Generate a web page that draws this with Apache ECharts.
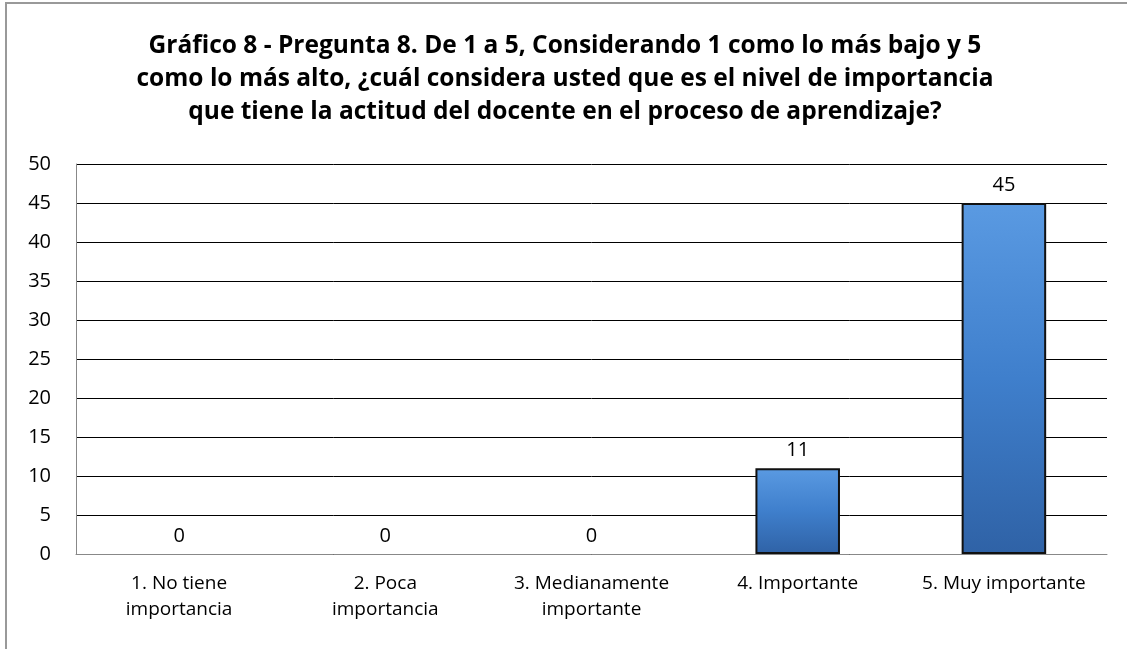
<!DOCTYPE html>
<html>
<head>
<meta charset="utf-8">
<script src="https://cdn.jsdelivr.net/npm/echarts@6/dist/echarts.min.js"></script>
<style>
  html, body { margin: 0; padding: 0; background: #fff; }
  #chart { width: 1127px; height: 649px; }
</style>
</head>
<body>
<div id="chart"></div>
<script>
var categories = ['1. No tiene\nimportancia', '2. Poca\nimportancia', '3. Medianamente\nimportante', '4. Importante', '5. Muy importante'];
var counts = [0, 0, 0, 11, 45];
var yTicks = { min: 0, max: 50, step: 5 };

var chart = echarts.init(document.getElementById('chart'));

// zero bars show no outline, only their label
var barData = counts.map(function (v) {
    return v === 0 ? { value: v, itemStyle: { borderWidth: 0 } } : v;
});

var option = {
    backgroundColor: '#fff',
    graphic: [{
        type: 'rect',
        shape: { x: 6, y: 3, width: 1130, height: 660 },
        style: { fill: 'none', stroke: '#999', lineWidth: 2 },
        silent: true
    }],
    title: {
        text: 'Gráfico 8 - Pregunta 8. De 1 a 5, Considerando 1 como lo más bajo y 5\ncomo lo más alto, ¿cuál considera usted que es el nivel de importancia\nque tiene la actitud del docente en el proceso de aprendizaje?',
        left: 560,
        top: 25,
        textAlign: 'center',
        textStyle: {
            fontFamily: 'Open Sans',
            fontSize: 24.5,
            fontWeight: 'bold',
            color: '#000',
            lineHeight: 33
        }
    },
    grid: {
        left: 76,
        right: 20,
        top: 164,
        bottom: 95,
        containLabel: false
    },
    xAxis: {
        type: 'category',
        data: categories,
        axisLine: { show: true, lineStyle: { color: '#888', width: 1 } },
        axisTick: { show: false },
        axisLabel: {
            color: '#000',
            fontFamily: 'Open Sans',
            fontSize: 19,
            lineHeight: 26,
            margin: 17,
            interval: 0
        }
    },
    yAxis: {
        type: 'value',
        min: yTicks.min,
        max: yTicks.max,
        interval: yTicks.step,
        axisLine: { show: true, lineStyle: { color: '#888', width: 1 } },
        axisTick: { show: false },
        axisLabel: {
            color: '#000',
            fontFamily: 'Open Sans',
            fontSize: 20,
            margin: 25
        },
        splitLine: { show: true, lineStyle: { color: '#000', width: 1 } }
    },
    series: [{
        type: 'bar',
        data: barData,
        barWidth: '41%',
        itemStyle: {
            color: new echarts.graphic.LinearGradient(0, 0, 0, 1, [
                { offset: 0, color: '#5a9ae2' },
                { offset: 0.5, color: '#3f7fcc' },
                { offset: 1, color: '#2f62a6' }
            ]),
            borderColor: '#111',
            borderWidth: 2
        },
        label: {
            show: true,
            position: 'top',
            distance: 8,
            color: '#000',
            fontFamily: 'Open Sans',
            fontSize: 20
        }
    }]
};
chart.setOption(option);
</script>
</body>
</html>
